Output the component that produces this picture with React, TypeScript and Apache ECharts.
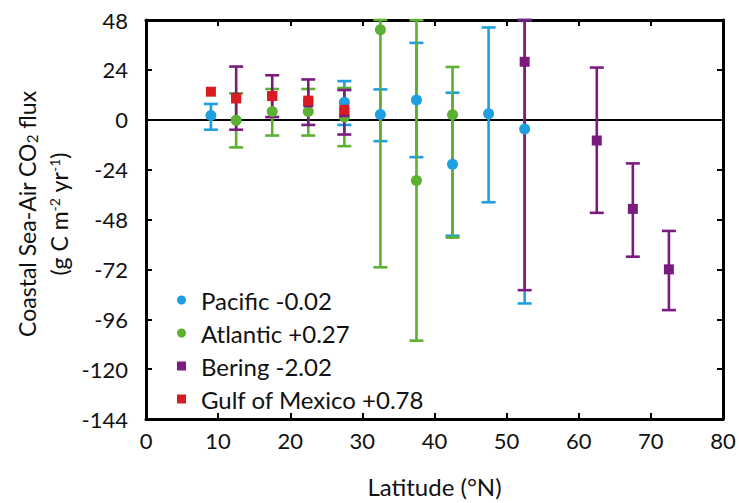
import React, { useEffect, useRef } from "react";
import * as echarts from "echarts";

// ---- data ----
const pacificX = [9, 27.5, 32.5, 37.5, 42.5, 47.5, 52.5];
const pacificY = [2, 8.4, 2.5, 9.5, -21.4, 2.9, -4.4];
const pacificLow = [-4.8, -2.5, -10.3, -18, -55.8, -39.7, -88.4];
const pacificHigh = [7.6, 18.6, 14.6, 37, 13, 44.4, 79.6];

const atlanticX = [12.5, 17.5, 22.5, 27.5, 32.5, 37.5, 42.5];
const atlanticY = [-0.3, 4, 4, 1.3, 43.3, -29.2, 2.4];
const atlanticLow = [-13.3, -7.6, -7.6, -12.7, -71, -106.3, -56.7];
const atlanticHigh = [12.7, 14.8, 14.8, 15.3, 157, 47.9, 25.4];

const beringX = [12.5, 17.5, 22.5, 27.5, 52.5, 62.5, 67.5, 72.5];
const beringY = [10.4, 11.4, 8.4, 3.6, 27.9, -10, -42.9, -72];
const beringLow = [-4.8, 1.3, -2.5, -7.1, -82, -44.8, -65.9, -91.6];
const beringHigh = [25.6, 21.4, 19.4, 14.3, 137.8, 25.1, -21, -53.5];

const gulfX = [9, 12.5, 17.5, 22.5, 27.5];
const gulfY = [13.5, 10.3, 11.4, 9.2, 4.8];

const seriesNames = ["Pacific -0.02", "Atlantic +0.27", "Bering -2.02", "Gulf of Mexico +0.78"];
const seriesColors = ["#1f9fe2", "#5cb032", "#7b1a7f", "#d81c22"];

const X_MIN = 0, X_MAX = 80, X_INT = 10;
const Y_MIN = -144, Y_MAX = 48, Y_INT = 24;

const FONT = "Lato";

function rows(xs: number[], ys: number[], lows?: number[], highs?: number[]) {
  return xs.map((x, i) => (lows && highs ? [x, ys[i], lows[i], highs[i]] : [x, ys[i]]));
}

function errorSeries(name: string, color: string, data: number[][]) {
  return {
    type: "custom",
    name: name + "_err",
    data,
    encode: { x: 0, y: [2, 3] },
    z: 3,
    silent: true,
    renderItem: (params: any, api: any) => {
      const x = api.value(0);
      const lo = Math.max(api.value(2), Y_MIN);
      const hi = Math.min(api.value(3), Y_MAX);
      const pLo = api.coord([x, lo]);
      const pHi = api.coord([x, hi]);
      const hw = 7;
      const style = { stroke: color, lineWidth: 2.6 };
      return {
        type: "group",
        children: [
          { type: "line", shape: { x1: pHi[0], y1: pHi[1], x2: pLo[0], y2: pLo[1] }, style },
          { type: "line", shape: { x1: pHi[0] - hw, y1: pHi[1], x2: pHi[0] + hw, y2: pHi[1] }, style },
          { type: "line", shape: { x1: pLo[0] - hw, y1: pLo[1], x2: pLo[0] + hw, y2: pLo[1] }, style },
        ],
      };
    },
  };
}

function markerSeries(name: string, color: string, symbol: string, size: number, data: number[][]) {
  return {
    type: "scatter",
    name,
    data,
    symbol,
    symbolSize: size,
    itemStyle: { color, opacity: 1 },
    z: 5,
  };
}

export default function App() {
  const ref = useRef<HTMLDivElement>(null);
  useEffect(() => {
    if (!ref.current) return;
    const chart = echarts.init(ref.current, undefined, { renderer: "svg" });
    const axisLine = { show: true, onZero: false, lineStyle: { color: "#000", width: 3 } };
    const tick = { show: true, inside: true, length: 6, lineStyle: { color: "#000", width: 2 } };
    chart.setOption({
      animation: false,
      backgroundColor: "#fff",
      grid: { left: 146, right: 16, top: 20, bottom: 80, containLabel: false },
      xAxis: [
        {
          type: "value",
          min: X_MIN,
          max: X_MAX,
          interval: X_INT,
          axisLine,
          axisTick: tick,
          axisLabel: { fontSize: 22, color: "#111", margin: 10, fontFamily: FONT },
          splitLine: { show: false },
          name: "Latitude (°N)",
          nameLocation: "middle",
          nameGap: 55,
          nameTextStyle: { fontSize: 24, color: "#111", fontFamily: FONT },
        },
        {
          type: "value",
          position: "top",
          min: X_MIN,
          max: X_MAX,
          interval: X_INT,
          axisLine,
          axisTick: tick,
          axisLabel: { show: false },
          splitLine: { show: false },
        },
      ],
      yAxis: [
        {
          type: "value",
          min: Y_MIN,
          max: Y_MAX,
          interval: Y_INT,
          axisLine,
          axisTick: tick,
          axisLabel: { fontSize: 22, color: "#111", margin: 18, fontFamily: FONT },
          splitLine: { show: false },
        },
        {
          type: "value",
          position: "right",
          min: Y_MIN,
          max: Y_MAX,
          interval: Y_INT,
          axisLine,
          axisTick: tick,
          axisLabel: { show: false },
          splitLine: { show: false },
        },
      ],
      legend: {
        orient: "vertical",
        left: 172,
        top: 283,
        itemWidth: 9,
        itemHeight: 9,
        itemGap: 9,
        data: seriesNames,
        textStyle: { fontSize: 24, color: "#111", fontFamily: FONT, padding: [0, 0, 0, 10] },
      },
      graphic: [
        {
          type: "text",
          x: 27,
          y: 214,
          rotation: Math.PI / 2,
          style: {
            text: "Coastal Sea-Air CO{sub|2} flux",
            fontSize: 23,
            fontFamily: FONT,
            fill: "#111",
            textAlign: "center",
            textVerticalAlign: "middle",
            rich: {
              sub: { fontSize: 15, fontFamily: FONT, fill: "#111", verticalAlign: "bottom", padding: [10, 0, 0, 0] },
            },
          },
        },
        {
          type: "text",
          x: 59,
          y: 214,
          rotation: Math.PI / 2,
          style: {
            text: "(g C m{sup|-2} yr{sup|-1})",
            fontSize: 23,
            fontFamily: FONT,
            fill: "#111",
            textAlign: "center",
            textVerticalAlign: "middle",
            rich: {
              sup: { fontSize: 14, fontFamily: FONT, fill: "#111", verticalAlign: "top", padding: [0, 0, 10, 0] },
            },
          },
        },
      ],
      series: [
        {
          ...errorSeries(seriesNames[0], seriesColors[0], rows(pacificX, pacificY, pacificLow, pacificHigh)),
          markLine: {
            silent: true,
            symbol: "none",
            label: { show: false },
            lineStyle: { color: "#000", width: 2, type: "solid" },
            data: [{ yAxis: 0 }],
            z: 1,
          },
        },
        errorSeries(seriesNames[1], seriesColors[1], rows(atlanticX, atlanticY, atlanticLow, atlanticHigh)),
        errorSeries(seriesNames[2], seriesColors[2], rows(beringX, beringY, beringLow, beringHigh)),
        markerSeries(seriesNames[0], seriesColors[0], "circle", 11, rows(pacificX, pacificY)),
        markerSeries(seriesNames[1], seriesColors[1], "circle", 11, rows(atlanticX, atlanticY)),
        markerSeries(seriesNames[2], seriesColors[2], "rect", 10, rows(beringX, beringY)),
        markerSeries(seriesNames[3], seriesColors[3], "rect", 10, rows(gulfX, gulfY)),
      ],
    });
    return () => chart.dispose();
  }, []);
  return <div ref={ref} style={{ width: 739, height: 503, position: "absolute", left: 0, top: 0 }} />;
}
